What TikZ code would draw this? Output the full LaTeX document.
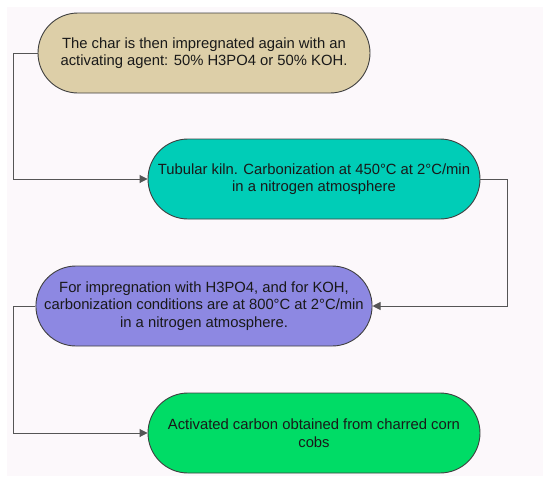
\documentclass[tikz,border=0pt]{standalone}
\usepackage{fontspec}
\setmainfont{Liberation Sans}
\usetikzlibrary{shapes.misc,arrows.meta}
\definecolor{bgc}{HTML}{FCF8FB}
\definecolor{tanc}{HTML}{DDCFA8}
\definecolor{tealc}{HTML}{00CDB7}
\definecolor{purc}{HTML}{8D88E2}
\definecolor{grnc}{HTML}{00DC66}
\definecolor{linec}{HTML}{555555}
\tikzset{
  pill/.style={rounded rectangle, draw=black!75, line width=0.9pt, minimum width=332pt, minimum height=80pt, align=center, font=\fontsize{14.8}{17.5}\selectfont, inner sep=0pt, text=black!90},
  conn/.style={draw=linec, line width=0.9pt, -{Triangle[length=8pt,width=8pt]}}
}
\begin{document}
\begin{tikzpicture}[x=1pt,y=-1pt]
\useasboundingbox (0,0) rectangle (550,485);
\fill[white] (0,0) rectangle (550,485);
\fill[bgc] (7,7) rectangle (543,476);
\node[pill, fill=tanc] (a) at (204,53) {The char is then impregnated again with an\\activating agent: 50\% H3PO4 or 50\% KOH.};
\node[pill, fill=tealc] (b) at (314,179) {Tubular kiln. Carbonization at 450°C at 2°C/min\\in a nitrogen atmosphere};
\node[pill, fill=purc] (c) at (204,306) {For impregnation with H3PO4, and for KOH,\\carbonization conditions are at 800°C at 2°C/min\\in a nitrogen atmosphere.};
\node[pill, fill=grnc] (d) at (314,433) {Activated carbon obtained from charred corn\\cobs};
\draw[conn] (a.west) -- (13,53) |- (b.west);
\draw[conn] (b.east) -- (507,179) |- (c.east);
\draw[conn] (c.west) -- (13,306) |- (d.west);
\end{tikzpicture}
\end{document}
